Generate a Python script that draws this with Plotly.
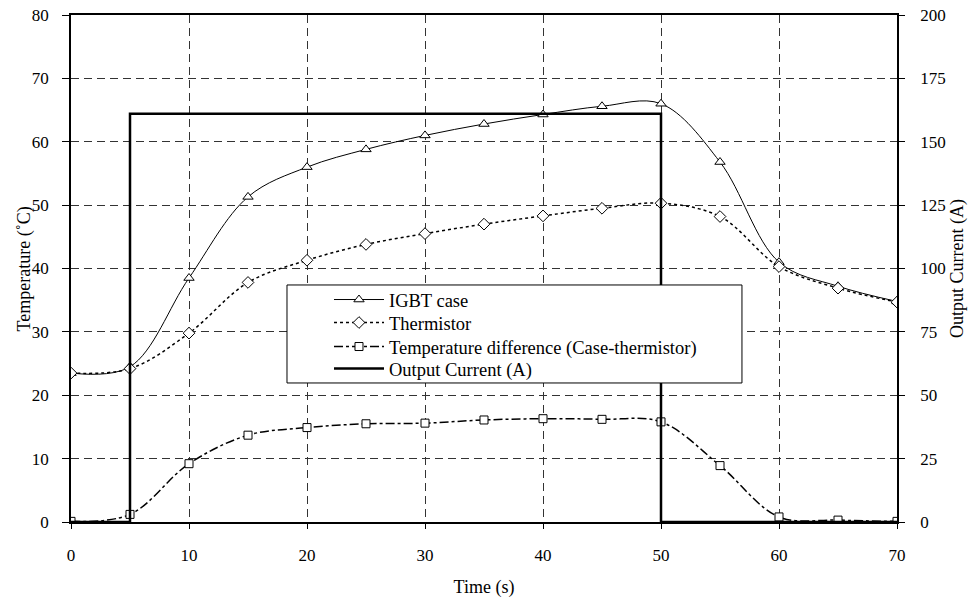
import plotly.graph_objects as go

time_s = [0, 5, 10, 15, 20, 25, 30, 35, 40, 45, 50, 55, 60, 65, 70]
igbt_case = [23.5, 24.5, 38.5, 51.3, 56.0, 58.8, 61.0, 62.8, 64.3, 65.6, 66.0, 56.8, 41.0, 37.2, 34.8]
thermistor = [23.5, 24.2, 29.8, 37.8, 41.3, 43.8, 45.5, 47.0, 48.3, 49.5, 50.3, 48.2, 40.3, 36.9, 34.7]
temp_diff = [0.1, 1.2, 9.2, 13.7, 14.9, 15.5, 15.6, 16.1, 16.3, 16.2, 15.8, 8.9, 0.8, 0.3, 0.1]

current_time = [0, 5, 5, 50, 50, 70]
current_amp = [0, 0, 161, 161, 0, 0]

FONT = "Liberation Serif"

fig = go.Figure()
mk = dict(color="white", line=dict(color="black", width=1))
fig.add_trace(go.Scatter(x=time_s, y=igbt_case, name="IGBT case", mode="lines+markers",
                         line=dict(color="black", width=1, shape="spline", smoothing=1),
                         marker=dict(symbol="triangle-up", size=9, **mk), legend="legend"))
fig.add_trace(go.Scatter(x=time_s, y=thermistor, name="Thermistor", mode="lines+markers",
                         line=dict(color="black", width=1.5, dash="dot", shape="spline", smoothing=1),
                         marker=dict(symbol="diamond", size=9, **mk), legend="legend2"))
fig.add_trace(go.Scatter(x=time_s, y=temp_diff, name="Temperature difference (Case-thermistor)",
                         mode="lines+markers",
                         line=dict(color="black", width=1.5, dash="dashdot", shape="spline", smoothing=1),
                         marker=dict(symbol="square", size=8, **mk), legend="legend3"))
fig.add_trace(go.Scatter(x=current_time, y=current_amp, name="Output Current (A)", mode="lines",
                         line=dict(color="black", width=2.5), yaxis="y2", legend="legend4"))

grid = dict(showgrid=True, gridcolor="#333", griddash="8px,5px", gridwidth=1)
TICKF = dict(family=FONT, size=17, color="black")
TITLEF = dict(family=FONT, size=18, color="black")


def leg(yc):
    return dict(x=0.2615, y=yc, xanchor="left", yanchor="middle", bgcolor="rgba(0,0,0,0)",
                borderwidth=0, font=dict(size=18.5, family=FONT, color="black"),
                itemwidth=50, indentation=42)


fig.update_layout(
    width=970, height=601,
    margin=dict(l=71, r=73, t=15, b=79),
    paper_bgcolor="white", plot_bgcolor="white",
    font=dict(family=FONT, size=17, color="black"),
    xaxis=dict(range=[0, 70], dtick=10, tick0=0, showline=True, linecolor="black", linewidth=1.5,
               mirror=True, ticks="outside", ticklen=5, tickcolor="black", zeroline=False,
               tickfont=TICKF, ticklabelstandoff=12, automargin=False,
               title=dict(text="Time (s)", font=TITLEF, standoff=16), **grid),
    yaxis=dict(range=[0, 80], dtick=10, tick0=0, showline=True, linecolor="black", linewidth=1.5,
               ticks="outside", ticklen=7, tickcolor="black", zeroline=False,
               tickfont=TICKF, ticklabelstandoff=10, automargin=False, **grid),
    yaxis2=dict(range=[0, 200], dtick=25, tick0=0, overlaying="y", side="right", showgrid=False,
                showline=True, linecolor="black", linewidth=1.5, ticks="outside", ticklen=6,
                tickcolor="black", zeroline=False, tickfont=TICKF, ticklabelstandoff=12,
                automargin=False,
                title=dict(text="Output Current (A)", font=TITLEF, standoff=6)),
    annotations=[dict(text="Temperature (˚C)", xref="paper", yref="paper", x=-0.0557, y=0.5,
                      xanchor="center", yanchor="middle", textangle=-90, showarrow=False,
                      font=TITLEF)],
    legend=leg((522 - 300) / 507),
    legend2=leg((522 - 323) / 507),
    legend3=leg((522 - 347) / 507),
    legend4=leg((522 - 369) / 507),
    shapes=[dict(type="rect", xref="paper", yref="paper", x0=0.2615, x1=0.8123, y0=0.2742, y1=0.4675,
                 line=dict(color="black", width=1), fillcolor="white", layer="above")],
    showlegend=True,
)

fig.write_html("out.html")
